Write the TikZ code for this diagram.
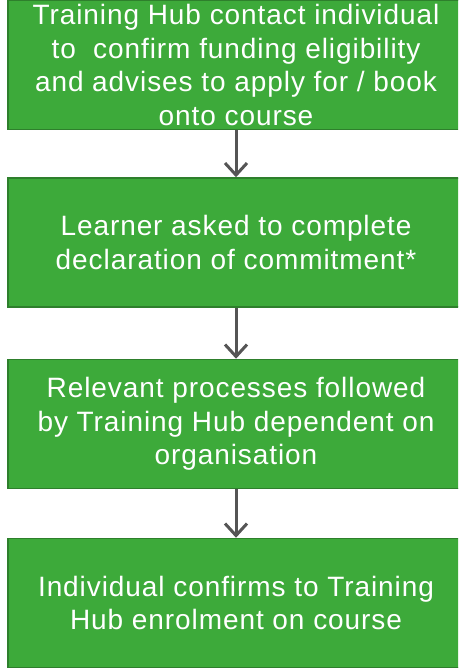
\documentclass[tikz,border=0pt]{standalone}
\usepackage{fontspec}
\setmainfont{Liberation Sans}[LetterSpace=3.3]
\usetikzlibrary{arrows.meta}
\definecolor{Leaf}{HTML}{3DAA3A}
\definecolor{LeafEdge}{HTML}{2E7F2C}
\definecolor{Pipe}{HTML}{555555}

\begin{document}
\begin{tikzpicture}[x=1pt,y=-1pt,
  stepbox/.style={draw=LeafEdge,line width=1.5pt,fill=Leaf,text=white,
    minimum width=456pt,minimum height=129pt,inner sep=0pt,align=center,
    font=\fontsize{28}{33.5}\selectfont,
    execute at begin node={\rule{0pt}{31pt}}},
  flow/.style={draw=Pipe,line width=3pt,
    -{Straight Barb[length=12pt,width=22pt,line width=3pt]}}]
\useasboundingbox (0,0) rectangle (458,668);
\clip (0,0) rectangle (458,668);
\node[stepbox] (hub) at (236,65)
 {Training Hub contact individual\\to\ \ confirm funding eligibility\\and advises to apply for / book\\onto course};
\node[stepbox] (decl) at (236,242.5)
 {Learner asked to complete\\declaration of commitment*};
\node[stepbox] (proc) at (236,424)
 {Relevant processes followed\\by Training Hub dependent on\\organisation};
\node[stepbox] (enrol) at (236,603)
 {Individual confirms to Training\\Hub enrolment on course};
\draw[flow] (hub.south) -- (decl.north);
\draw[flow] (decl.south) -- (proc.north);
\draw[flow] (proc.south) -- (enrol.north);
\end{tikzpicture}
\end{document}
